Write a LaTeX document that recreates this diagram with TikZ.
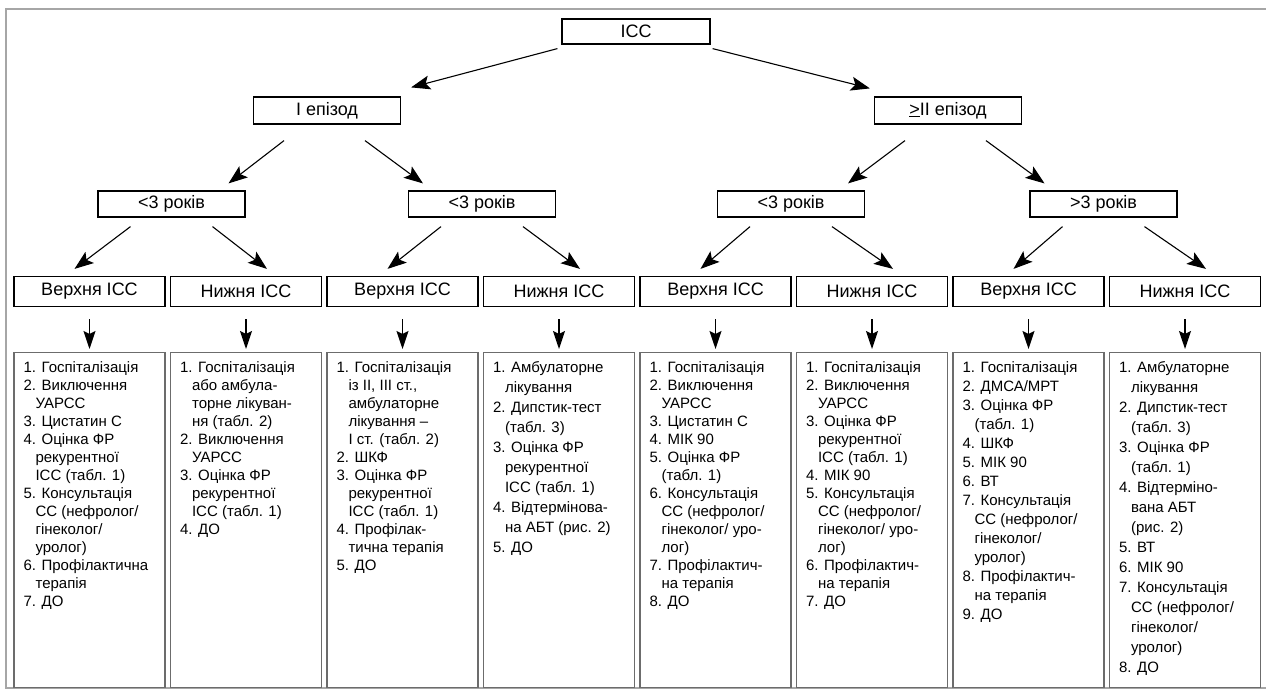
\documentclass[tikz,border=0pt]{standalone}
\usepackage{fontspec}
\setmainfont{Liberation Sans}
\usetikzlibrary{arrows.meta}

\newcommand{\cnt}{\hspace*{12pt}}

\begin{document}
\begin{tikzpicture}[x=1pt, y=-1pt, every node/.style={inner sep=0pt},
    arr/.style={-{Stealth[length=19pt,width=14pt,inset=4pt]}, line width=1.1pt},
    varr/.style={-{Stealth[length=18pt,width=12pt,inset=3pt]}, line width=1.5pt},
    head/.style={draw, line width=1.2pt, minimum width=147pt, minimum height=26pt, font=\fontsize{18}{20}\selectfont},
    kind/.style={head, minimum width=151pt, minimum height=30pt},
    lst/.style={draw=gray!85!black, line width=1.3pt, minimum width=151pt, minimum height=335pt, anchor=north},
    txt/.style={anchor=north west, align=left, font=\fontsize{15}{#1}\selectfont},
    txt/.default=18]
                \useasboundingbox (0,0) rectangle (1266,691);
                \draw[gray!70, line width=2pt] (1266,9) -- (6,9) -- (6,688) -- (1266,688);

                % Nodes
                \node[head, minimum width=148pt, minimum height=25pt] at (636, 31.5) (icc) {ІСС};
                \node[head, minimum height=27pt] at (327, 110.5) (ep1) {І епізод};
                \node[head, minimum height=27pt] at (948, 110.5) (ep2) {\underline{>}ІІ епізод};

                \node[head] at (171.5, 204) (a1) {<3 років};
                \node[head] at (482, 204) (a2) {<3 років};
                \node[head] at (791, 204) (b1) {<3 років};
                \node[head] at (1103.5, 204) (b2) {>3 років};

                \node[kind] at (89.5, 291.5) (v1) {Верхня ІСС};
                \node[kind] at (246, 291.5) (v2) {Нижня ІСС};
                \node[kind] at (402.5, 291.5) (v3) {Верхня ІСС};
                \node[kind] at (559, 291.5) (v4) {Нижня ІСС};
                \node[kind] at (715.5, 291.5) (v5) {Верхня ІСС};
                \node[kind] at (872, 291.5) (v6) {Нижня ІСС};
                \node[kind] at (1028.5, 291.5) (v7) {Верхня ІСС};
                \node[kind] at (1185, 291.5) (v8) {Нижня ІСС};

                \node[lst] at (89.5, 352) (l1) {};
                \node[lst] at (246, 352) (l2) {};
                \node[lst] at (402.5, 352) (l3) {};
                \node[lst] at (559, 352) (l4) {};
                \node[lst] at (715.5, 352) (l5) {};
                \node[lst] at (872, 352) (l6) {};
                \node[lst] at (1028.5, 352) (l7) {};
                \node[lst] at (1185, 352) (l8) {};

                % Lists
                \node[txt] at ([shift={(10pt,-9pt)}]l1.north west) (t1) {1. Госпіталізація\\
                    2. Виключення\\ \cnt УАРСС\\
                    3. Цистатин С\\
                    4. Оцінка ФР\\ \cnt рекурентної\\ \cnt ІСС (табл. 1)\\
                    5. Консультація\\ \cnt СС (нефролог/\\ \cnt гінеколог/\\ \cnt уролог)\\
                    6. Профілактична\\ \cnt терапія\\
                    7. ДО};
                \node[txt] at ([shift={(10pt,-9pt)}]l2.north west) (t2) {1. Госпіталізація\\
                    \cnt або амбула-\\ \cnt торне лікуван-\\ \cnt ня (табл. 2)\\
                    2. Виключення\\ \cnt УАРСС\\
                    3. Оцінка ФР\\ \cnt рекурентної\\ \cnt ІСС (табл. 1)\\
                    4. ДО};
                \node[txt] at ([shift={(10pt,-9pt)}]l3.north west) (t3) {1. Госпіталізація\\
                    \cnt із ІІ, ІІІ ст.,\\ \cnt амбулаторне\\ \cnt лікування –\\ \cnt І ст. (табл. 2)\\
                    2. ШКФ\\
                    3. Оцінка ФР\\ \cnt рекурентної\\ \cnt ІСС (табл. 1)\\
                    4. Профілак-\\ \cnt тична терапія\\
                    5. ДО};
                \node[txt=20] at ([shift={(10pt,-9pt)}]l4.north west) (t4) {1. Амбулаторне\\ \cnt лікування\\
                    2. Дипстик-тест\\ \cnt (табл. 3)\\
                    3. Оцінка ФР\\ \cnt рекурентної\\ \cnt ІСС (табл. 1)\\
                    4. Відтермінова-\\ \cnt на АБТ (рис. 2)\\
                    5. ДО};
                \node[txt] at ([shift={(10pt,-9pt)}]l5.north west) (t5) {1. Госпіталізація\\
                    2. Виключення\\ \cnt УАРСС\\
                    3. Цистатин С\\
                    4. МІК 90\\
                    5. Оцінка ФР\\ \cnt (табл. 1)\\
                    6. Консультація\\ \cnt СС (нефролог/\\ \cnt гінеколог/ уро-\\ \cnt лог)\\
                    7. Профілактич-\\ \cnt на терапія\\
                    8. ДО};
                \node[txt] at ([shift={(10pt,-9pt)}]l6.north west) (t6) {1. Госпіталізація\\
                    2. Виключення\\ \cnt УАРСС\\
                    3. Оцінка ФР\\ \cnt рекурентної\\ \cnt ІСС (табл. 1)\\
                    4. МІК 90\\
                    5. Консультація\\ \cnt СС (нефролог/\\ \cnt гінеколог/ уро-\\ \cnt лог)\\
                    6. Профілактич-\\ \cnt на терапія\\
                    7. ДО};
                \node[txt=19] at ([shift={(10pt,-9pt)}]l7.north west) (t7) {1. Госпіталізація\\
                    2. ДМСА/МРТ\\
                    3. Оцінка ФР\\ \cnt (табл. 1)\\
                    4. ШКФ\\
                    5. МІК 90\\
                    6. ВТ\\
                    7. Консультація\\ \cnt СС (нефролог/\\ \cnt гінеколог/\\ \cnt уролог)\\
                    8. Профілактич-\\ \cnt на терапія\\
                    9. ДО};
                \node[txt=20] at ([shift={(10pt,-9pt)}]l8.north west) (t8) {1. Амбулаторне\\ \cnt лікування\\
                    2. Дипстик-тест\\ \cnt (табл. 3)\\
                    3. Оцінка ФР\\ \cnt (табл. 1)\\
                    4. Відтерміно-\\ \cnt вана АБТ\\ \cnt (рис. 2)\\
                    5. ВТ\\
                    6. МІК 90\\
                    7. Консультація\\ \cnt СС (нефролог/\\ \cnt гінеколог/\\ \cnt уролог)\\
                    8. ДО};

                % Edges
                \draw[arr] ([xshift=-4pt, yshift=-4pt]icc.south west) -- ([xshift=10pt, yshift=9pt]ep1.north east);
                \draw[arr] ([xshift=2pt, yshift=-4pt]icc.south east) -- ([xshift=-4pt, yshift=8pt]ep2.north west);

                \draw[arr] ([xshift=-43pt, yshift=-16pt]ep1.south) -- ([xshift=57pt, yshift=7pt]a1.north);
                \draw[arr] ([xshift=38pt, yshift=-16pt]ep1.south) -- ([xshift=-59pt, yshift=7pt]a2.north);
                \draw[arr] ([xshift=-43pt, yshift=-16pt]ep2.south) -- ([xshift=57pt, yshift=7pt]b1.north);
                \draw[arr] ([xshift=38pt, yshift=-16pt]ep2.south) -- ([xshift=-59pt, yshift=7pt]b2.north);

                \draw[arr] ([xshift=-41pt, yshift=-9pt]a1.south) -- ([xshift=-15pt, yshift=7pt]v1.north);
                \draw[arr] ([xshift=41pt, yshift=-9pt]a1.south) -- ([xshift=21pt, yshift=7pt]v2.north);
                \draw[arr] ([xshift=-41pt, yshift=-9pt]a2.south) -- ([xshift=-15pt, yshift=7pt]v3.north);
                \draw[arr] ([xshift=41pt, yshift=-9pt]a2.south) -- ([xshift=21pt, yshift=7pt]v4.north);
                \draw[arr] ([xshift=-41pt, yshift=-9pt]b1.south) -- ([xshift=-15pt, yshift=7pt]v5.north);
                \draw[arr] ([xshift=41pt, yshift=-9pt]b1.south) -- ([xshift=21pt, yshift=7pt]v6.north);
                \draw[arr] ([xshift=-41pt, yshift=-9pt]b2.south) -- ([xshift=-15pt, yshift=7pt]v7.north);
                \draw[arr] ([xshift=41pt, yshift=-9pt]b2.south) -- ([xshift=21pt, yshift=7pt]v8.north);

                \draw[varr] ([yshift=-12pt]v1.south) -- ([yshift=3pt]l1.north);
                \draw[varr] ([yshift=-12pt]v2.south) -- ([yshift=3pt]l2.north);
                \draw[varr] ([yshift=-12pt]v3.south) -- ([yshift=3pt]l3.north);
                \draw[varr] ([yshift=-12pt]v4.south) -- ([yshift=3pt]l4.north);
                \draw[varr] ([yshift=-12pt]v5.south) -- ([yshift=3pt]l5.north);
                \draw[varr] ([yshift=-12pt]v6.south) -- ([yshift=3pt]l6.north);
                \draw[varr] ([yshift=-12pt]v7.south) -- ([yshift=3pt]l7.north);
                \draw[varr] ([yshift=-12pt]v8.south) -- ([yshift=3pt]l8.north);
            \end{tikzpicture}
\end{document}
